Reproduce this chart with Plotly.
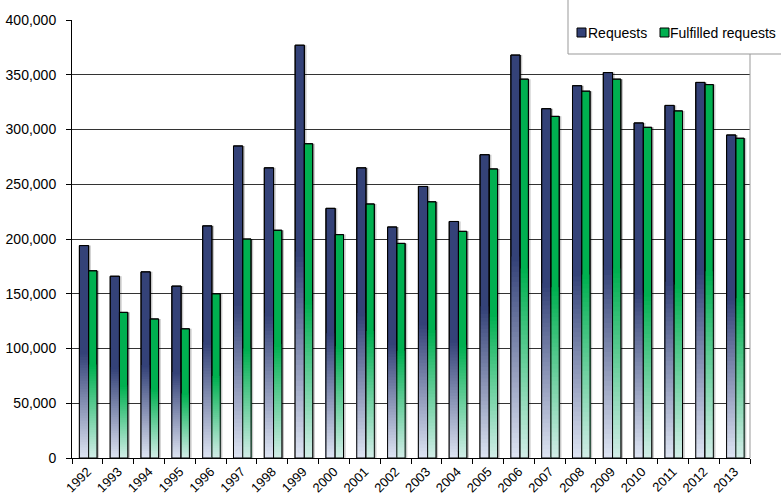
import plotly.graph_objects as go

years = [str(y) for y in range(1992, 2014)]
requests = [194000, 166000, 170000, 157000, 212000, 285000, 265000, 377000, 228000, 265000, 211000,
            248000, 216000, 277000, 368000, 319000, 340000, 352000, 306000, 322000, 343000, 295000]
fulfilled = [171000, 133000, 127000, 118000, 150000, 200000, 208000, 287000, 204000, 232000, 196000,
             234000, 207000, 264000, 346000, 312000, 335000, 346000, 302000, 317000, 341000, 292000]
series_names = ["Requests", "Fulfilled requests"]
y_ticks = [0, 50000, 100000, 150000, 200000, 250000, 300000, 350000, 400000]

FONT = "Liberation Sans, Arial, sans-serif"
top_colors = [(52, 66, 120), (0, 176, 80)]
bottom_colors = [(224, 230, 244), (213, 238, 234)]
offsets = [-0.26, 0.04]
widths = [0.30, 0.27]
N = 40

W, H = 781, 504
ML, MR, MT, MB = 72, 31, 20, 46
PW, PH = W - ML - MR, H - MT - MB


def px_x(x):  # page pixel -> paper fraction
    return (x - ML) / PW


def px_y(y):
    return (H - MB - y) / PH


fig = go.Figure()

for s, (name, vals) in enumerate(zip(series_names, [requests, fulfilled])):
    tc, bc = top_colors[s], bottom_colors[s]
    # soft shadow
    fig.add_trace(go.Bar(
        x=years, y=vals, offset=offsets[s] + 0.07, width=widths[s],
        marker=dict(color="rgba(0,0,0,0.22)", line=dict(width=0)),
        hoverinfo="skip", showlegend=False,
    ))
    fig.add_trace(go.Bar(
        x=years, y=vals, name=name, offset=offsets[s], width=widths[s],
        marker=dict(color="rgb(%d,%d,%d)" % tc, line=dict(color="black", width=1)),
        hoverinfo="skip", showlegend=False,
    ))
    for k in range(N, 0, -1):
        f = 0.5 * k / N
        t = k / N
        c = tuple(round(bc[i] + (tc[i] - bc[i]) * t) for i in range(3))
        fig.add_trace(go.Bar(
            x=years, y=[v * f for v in vals], offset=offsets[s], width=widths[s],
            marker=dict(color="rgb(%d,%d,%d)" % c, line=dict(width=0)),
            hoverinfo="skip", showlegend=False,
        ))
    fig.add_trace(go.Bar(
        x=years, y=vals, offset=offsets[s], width=widths[s],
        marker=dict(color="rgba(0,0,0,0)", line=dict(color="black", width=1)),
        hoverinfo="skip", showlegend=False,
    ))

legend_items = [(series_names[0], top_colors[0], 577, 588), (series_names[1], top_colors[1], 660, 670)]
shapes = [
    dict(type="line", xref="paper", yref="paper", x0=1, x1=1, y0=0, y1=1,
         line=dict(color="#999999", width=1)),
    dict(type="rect", xref="paper", yref="paper", x0=px_x(568), x1=px_x(800),
         y0=px_y(54), y1=px_y(-10), fillcolor="white", line=dict(color="#999999", width=1),
         layer="above"),
]
annotations = []
for name, col, sx, tx in legend_items:
    shapes.append(dict(type="rect", xref="paper", yref="paper", x0=px_x(sx), x1=px_x(sx + 9),
                       y0=px_y(37), y1=px_y(28), fillcolor="rgb(%d,%d,%d)" % col,
                       line=dict(color="black", width=1), layer="above"))
    annotations.append(dict(text=name, xref="paper", yref="paper", x=px_x(tx - 1), y=px_y(32.5),
                            xanchor="left", yanchor="middle", showarrow=False,
                            font=dict(family=FONT, size=14, color="black"), borderpad=0))

fig.update_layout(
    width=W, height=H,
    margin=dict(l=ML, r=MR, t=MT, b=MB),
    barmode="overlay",
    plot_bgcolor="white", paper_bgcolor="white",
    font=dict(family=FONT, size=14, color="black"),
    showlegend=False,
    xaxis=dict(
        type="category", categoryorder="array", categoryarray=years,
        showline=True, linecolor="black", linewidth=1,
        ticks="outside", tickson="boundaries", ticklen=5, tickcolor="black",
        tickangle=-45, tickfont=dict(family=FONT, size=13),
        showgrid=False, range=[-0.5, 21.5], fixedrange=True, automargin=False,
    ),
    yaxis=dict(
        range=[0, 400000], tickvals=y_ticks, tickformat=",d",
        showline=True, linecolor="black", linewidth=1,
        ticks="outside", ticklen=5, tickcolor="black",
        showgrid=True, gridcolor="#333333", gridwidth=1,
        zeroline=False, ticklabelstandoff=7, automargin=False,
        tickfont=dict(family=FONT, size=14),
    ),
    shapes=shapes,
    annotations=annotations,
)

fig.write_html("out.html", config={"displayModeBar": False},
               post_script="document.body.style.margin='0';")
